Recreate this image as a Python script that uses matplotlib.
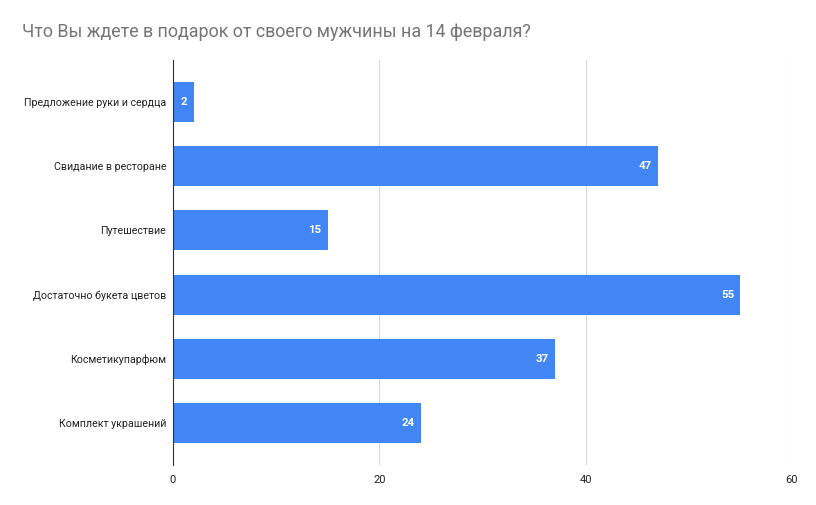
import matplotlib
matplotlib.use("Agg")
import matplotlib.pyplot as plt

categories = ["Предложение руки и сердца", "Свидание в ресторане", "Путешествие",
              "Достаточно букета цветов", "Косметикупарфюм", "Комплект украшений"]
values = [2, 47, 15, 55, 37, 24]
xticks = [0, 20, 40, 60]
title = "Что Вы ждете в подарок от своего мужчины на 14 февраля?"

plt.rcParams['font.family'] = ['Roboto', 'DejaVu Sans']

fig = plt.figure(figsize=(8.16, 5.05), dpi=100)
ax = fig.add_axes([173/816, 1-465/505, (792-173)/816, (465-60)/505])

y = list(range(len(categories)))
ax.barh(y, values, height=0.62, color="#4285F4", zorder=3)
for yi, v in zip(y, values):
    ax.text(v - 0.6, yi, str(v), ha="right", va="center", color="white",
            fontsize=8.2, fontweight="bold", zorder=4)

ax.set_ylim(len(categories) - 1 + 0.65, -0.65)
ax.set_xlim(0, 60)
ax.set_yticks(y)
ax.set_yticklabels(categories, fontsize=7.7, color="#222222")
ax.set_xticks(xticks)
ax.set_xticklabels([str(t) for t in xticks], fontsize=8, color="#222222")
ax.tick_params(length=0, pad=7)
ax.tick_params(axis='y', pad=5)
ax.grid(axis="x", color="#d9d9d9", linewidth=0.8, zorder=0)
for s in ["top", "right", "bottom"]:
    ax.spines[s].set_visible(False)
ax.spines["left"].set_color("#333333")
ax.spines["left"].set_linewidth(0.8)
ax.spines["left"].set_zorder(5)

fig.text(22/816, 1-32/505, title, fontsize=12.9, color="#757575", ha="left", va="center")

fig.savefig("out.png", dpi=100, facecolor="white")
